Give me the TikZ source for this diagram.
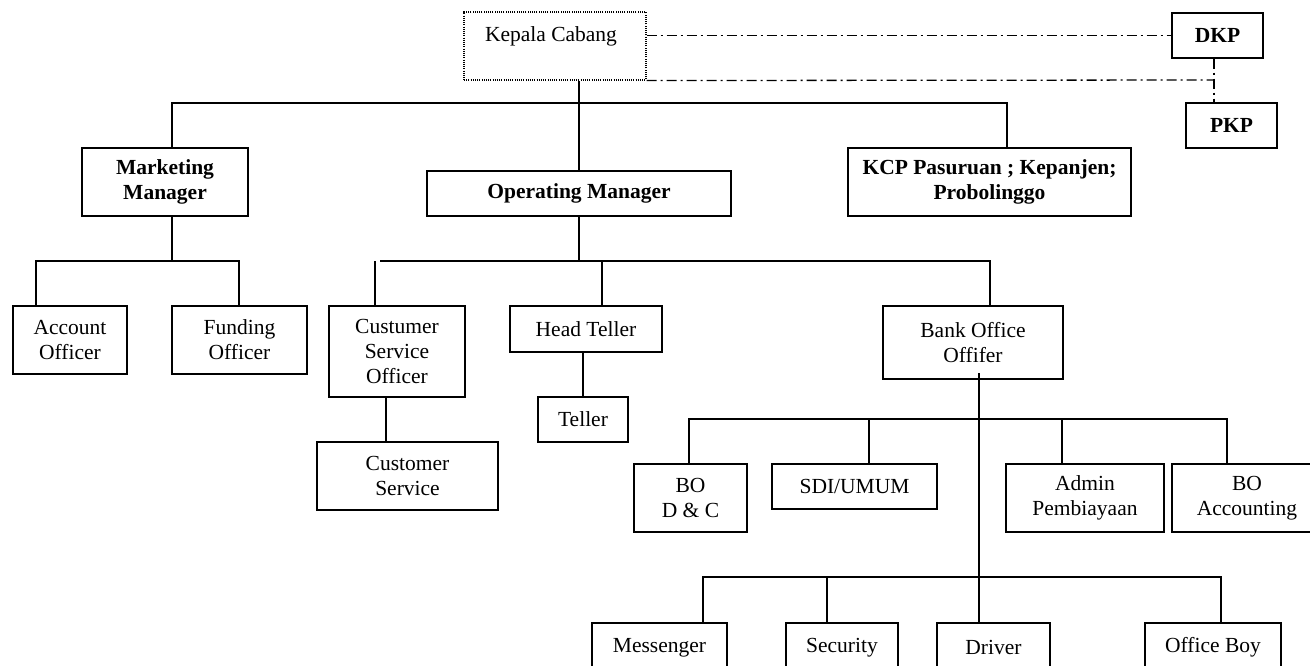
\documentclass[tikz,border=0pt]{standalone}
\usepackage{fontspec}
\setmainfont{Liberation Serif}
\begin{document}
\begin{tikzpicture}[x=1pt,y=-1pt,
  bx/.style={draw, line width=1.5pt, inner sep=0pt, align=center, font=\fontsize{21.5}{25}\selectfont},
  bb/.style={bx, font=\fontsize{21.5}{25}\selectfont\bfseries},
  ln/.style={line width=1.5pt},
  dd/.style={line width=1.3pt, dash pattern=on 10pt off 4pt on 2pt off 4pt},
  dotbox/.style={draw, line width=1.1pt, dash pattern=on 1pt off 1.2pt, inner sep=0pt}]
\useasboundingbox (0,0) rectangle (1310,666);
\clip (0,0) rectangle (1310,666);

% top
\node[dotbox, minimum width=182pt, minimum height=68pt] (kc) at (555,46) {};
\node[font=\fontsize{21.5}{25}\selectfont, inner sep=0pt] (kct) at (551,36) {Kepala Cabang};
\node[bb, minimum width=91pt, minimum height=45pt] (dkp) at (1217.5,35.5) {DKP};
\node[bb, minimum width=91pt, minimum height=45pt] (pkp) at (1231.5,125.5) {PKP};

% level 1
\node[bb, minimum width=166pt, minimum height=68pt] (mm) at (165,182) {Marketing\\Manager};
\node[bb, minimum width=304pt, minimum height=45pt] (om) at (579,193.5) {Operating Manager};
\node[bb, minimum width=283pt, minimum height=68pt] (kcp) at (989.5,182) {KCP Pasuruan ; Kepanjen;\\Probolinggo};

% level 2
\node[bx, minimum width=114pt, minimum height=68pt] (ao) at (70,340) {Account\\Officer};
\node[bx, minimum width=135pt, minimum height=68pt] (fo) at (239.5,340) {Funding\\Officer};
\node[bx, minimum width=136pt, minimum height=91pt] (cso) at (397,351.5) {Custumer\\Service\\Officer};
\node[bx, minimum width=152pt, minimum height=46pt] (ht) at (586,329) {Head Teller};
\node[bx, minimum width=180pt, minimum height=73pt] (boo) at (973,342.5) {Bank Office\\Offifer};

% level 3
\node[bx, minimum width=90pt, minimum height=45pt] (tel) at (583,419.5) {Teller};
\node[bx, minimum width=181pt, minimum height=68pt] (cs) at (407.5,476) {Customer\\Service};
\node[bx, minimum width=113pt, minimum height=68pt] (bodc) at (690.5,498) {BO\\D \& C};
\node[bx, minimum width=165pt, minimum height=45pt] (sdi) at (854.5,486.5) {SDI/UMUM};
\node[bx, minimum width=158pt, minimum height=68pt] (adm) at (1085,498) {Admin\\Pembiayaan};
\node[bx, minimum width=150pt, minimum height=68pt] (boa) at (1247,498) {BO\\Accounting};

% level 4
\node[bx, minimum width=135pt, minimum height=49pt] (mes) at (659.5,647.5) {Messenger};
\node[bx, minimum width=112pt, minimum height=49pt] (sec) at (842,647.5) {Security};
\node[bx, minimum width=113pt, minimum height=49pt] (drv) at (993.5,647.5) {Driver};
\node[bx, minimum width=136pt, minimum height=49pt] (ob) at (1213,647.5) {Office Boy};

% dash-dot links
\coordinate (jx) at (1214,80);
\draw[dd] (kc.east |- dkp.west) -- (dkp.west);
\draw[dd] (kc.south east) -- (jx);
\draw[dd] (dkp.south -| jx) -- (pkp.north -| jx);

% solid connectors
\coordinate (a1) at (172,103);
\coordinate (a2) at (1007,103);
\draw[ln] (om.north |- kc.south) -- (om.north);
\draw[ln] (mm.north -| a1) -- (a1) -- (a2) -- (kcp.north -| a2);

\coordinate (m0) at (172,261);
\coordinate (m1) at (36,261);
\coordinate (m2) at (239,261);
\draw[ln] (mm.south -| m0) -- (m0);
\draw[ln] (ao.north -| m1) -- (m1) -- (m2) -- (fo.north -| m2);

\coordinate (o0) at (579,261);
\coordinate (o1) at (380,261);
\coordinate (o2) at (990,261);
\coordinate (oc) at (375,261);
\coordinate (oh) at (602,261);
\draw[ln] (om.south -| o0) -- (o0);
\draw[ln] (o1) -- (o2) -- (boo.north -| o2);
\draw[ln] (oc) -- (cso.north -| oc);
\draw[ln] (oh) -- (ht.north -| oh);
\draw[ln] (ht.south -| tel.north) -- (tel.north);
\coordinate (cx) at (386,0);
\draw[ln] (cso.south -| cx) -- (cs.north -| cx);

% Bank Office tree
\coordinate (bv) at (979,373);
\draw[ln] (bv) -- (drv.north -| bv);
\coordinate (r1) at (689,419);
\coordinate (r2) at (869,419);
\coordinate (r3) at (1062,419);
\coordinate (r4) at (1227,419);
\draw[ln] (bodc.north -| r1) -- (r1) -- (r4) -- (boa.north -| r4);
\draw[ln] (r2) -- (sdi.north -| r2);
\draw[ln] (r3) -- (adm.north -| r3);
\coordinate (s1) at (703,577);
\coordinate (s2) at (827,577);
\coordinate (s3) at (1221,577);
\draw[ln] (mes.north -| s1) -- (s1) -- (s3) -- (ob.north -| s3);
\draw[ln] (s2) -- (sec.north -| s2);
\end{tikzpicture}
\end{document}
